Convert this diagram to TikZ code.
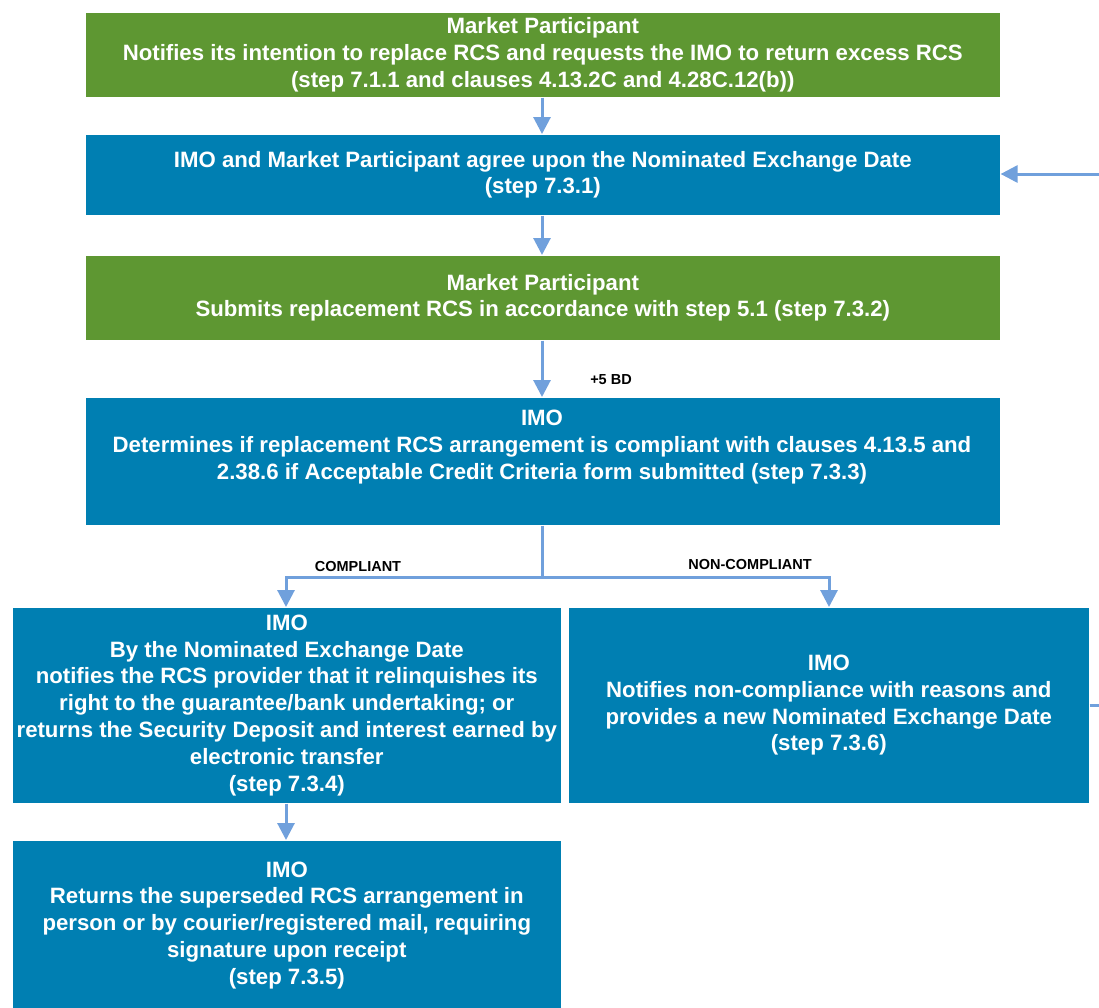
\documentclass[tikz,border=0pt]{standalone}
\usepackage{fontspec}
\setmainfont{Liberation Sans}
\usetikzlibrary{arrows.meta}
\definecolor{mpgreen}{RGB}{94,151,50}
\definecolor{imoblue}{RGB}{0,127,178}
\definecolor{arrowblue}{RGB}{112,160,220}
\begin{document}
\begin{tikzpicture}[x=1pt,y=-1pt,
  boxstyle/.style={draw=white, line width=0.6pt, inner sep=0pt, anchor=north west, text=white,
     align=center, font=\fontsize{22.2}{26.8}\selectfont\bfseries},
  greenbox/.style={boxstyle, fill=mpgreen},
  bluebox/.style={boxstyle, fill=imoblue},
  txt/.style={text=white, align=center, inner sep=0pt, font=\fontsize{22.2}{26.8}\selectfont\bfseries},
  lbl/.style={inner sep=0pt, font=\fontsize{14.5}{17}\selectfont\bfseries},
  conn/.style={draw=arrowblue, line width=3pt},
  arr/.style={conn, -{Triangle[width=17pt,length=17pt]}}
]
\useasboundingbox (0,0) rectangle (1099,1007);
\node[greenbox, minimum width=915pt, minimum height=85pt] (b1) at (85,12)
  {Market Participant\\Notifies its intention to replace RCS and requests the IMO to return excess RCS\\(step 7.1.1 and clauses 4.13.2C and 4.28C.12(b))};
\node[bluebox, minimum width=915pt, minimum height=81pt] (b2) at (85,134)
  {IMO and Market Participant agree upon the Nominated Exchange Date\\(step 7.3.1)};
\node[greenbox, minimum width=915pt, minimum height=85pt] (b3) at (85,255)
  {Market Participant\\Submits replacement RCS in accordance with step 5.1 (step 7.3.2)};
\node[bluebox, minimum width=915pt, minimum height=128pt] (b4) at (85,397) {};
\node[txt] (t4) at (542,447)
  {IMO\\Determines if replacement RCS arrangement is compliant with clauses 4.13.5 and\\2.38.6 if Acceptable Credit Criteria form submitted (step 7.3.3)};
\node[bluebox, minimum width=549pt, minimum height=196pt] (b5) at (12,607)
  {IMO\\By the Nominated Exchange Date\\notifies the RCS provider that it relinquishes its\\right to the guarantee/bank undertaking; or\\returns the Security Deposit and interest earned by\\electronic transfer\\(step 7.3.4)};
\node[bluebox, minimum width=521pt, minimum height=196pt] (b6) at (568,607)
  {IMO\\Notifies non-compliance with reasons and\\provides a new Nominated Exchange Date\\(step 7.3.6)};
\node[bluebox, minimum width=549pt, minimum height=170pt] (b7) at (12,840)
  {IMO\\Returns the superseded RCS arrangement in\\person or by courier/registered mail, requiring\\signature upon receipt\\(step 7.3.5)};

\node[lbl] (l5bd) at (611,380) {+5 BD};
\node[lbl] (lc) at (358,566) {COMPLIANT};
\node[lbl] (lnc) at (750,564) {NON-COMPLIANT};

\coordinate (split) at (542,577);
\coordinate (rin) at (1099,174);
\coordinate (rout) at (1099,705);

\draw[arr] (b1.south -| 542,0) -- (b2.north -| 542,0);
\draw[arr] (b2.south -| 542,0) -- (b3.north -| 542,0);
\draw[arr] (b3.south -| 542,0) -- (b4.north -| 542,0);
\draw[conn] (b4.south -| split) -- (split);
\draw[arr] (split) -| (b5.north -| 286,0);
\draw[arr] (split) -| (b6.north -| 829,0);
\draw[arr] (b5.south -| 286,0) -- (b7.north -| 286,0);
\draw[conn] (b6.east |- rout) -- (rout);
\draw[arr] (rin) -- (b2.east |- rin);
\end{tikzpicture}
\end{document}
